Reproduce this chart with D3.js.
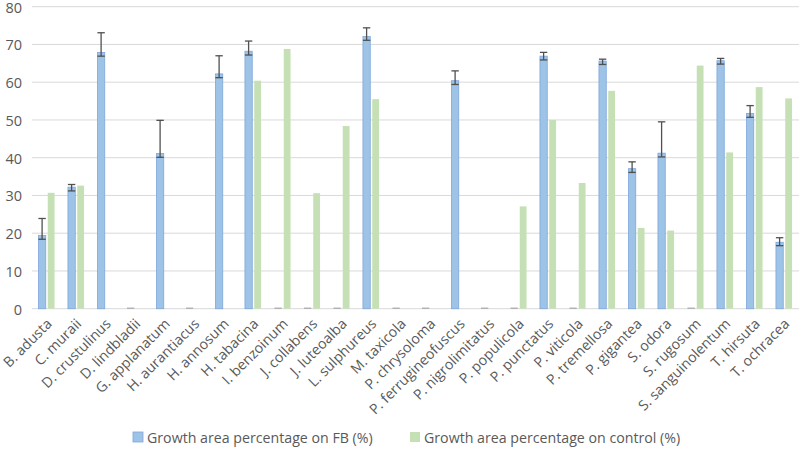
<!DOCTYPE html>
<html>
<head>
<meta charset="utf-8">
<script src="https://cdn.jsdelivr.net/npm/d3@7"></script>
<style>
  body { margin: 0; background: #fff; }
  text { font-family: "Open Sans", "Liberation Sans", sans-serif; fill: #595959; }
</style>
</head>
<body>
<div id="chart"></div>
<script>
// species names on the x axis
const species = ["B. adusta", "C. muraii", "D. crustulinus", "D. lindbladii", "G. applanatum",
  "H. aurantiacus", "H. annosum", "H. tabacina", "I. benzoinum", "J. collabens", "J. luteoalba",
  "L. sulphureus", "M. taxicola", "P. chrysoloma", "P. ferrugineofuscus", "P. nigrolimitatus",
  "P. populicola", "P. punctatus", "P. viticola", "P. tremellosa", "P. gigantea", "S. odora",
  "S. rugosum", "S. sanguinolentum", "T. hirsuta", "T. ochracea"];

// growth area on FB (%)
const fbValues = [19.4, 32.2, 67.9, 0, 41.1, 0, 62.2, 68.2, 0, 0, 0, 72.1, 0, 0, 60.4, 0,
  0, 66.9, 0, 65.6, 37.1, 41.2, 0, 65.7, 51.7, 17.6];
// error bars on FB (plus / minus)
const fbErrPlus = [4.5, 0.7, 5.2, 0, 8.8, 0, 4.8, 2.7, 0, 0, 0, 2.3, 0, 0, 2.6, 0,
  0, 1.0, 0, 0.5, 1.8, 8.3, 0, 0.6, 2.1, 1.2];
const fbErrMinus = [1.0, 1.0, 1.0, 0, 1.0, 0, 1.0, 1.0, 0, 0, 0, 1.0, 0, 0, 1.0, 0,
  0, 1.0, 0, 0.9, 1.0, 1.0, 0, 0.9, 1.0, 0.9];

// growth area on control (%)
const controlValues = [30.7, 32.6, 0, 0, 0, 0, 0, 60.4, 68.8, 30.6, 48.4, 55.5, 0, 0, 0, 0,
  27.1, 50.0, 33.3, 57.7, 21.4, 20.7, 64.4, 41.4, 58.7, 55.7];

const yTicks = [0, 10, 20, 30, 40, 50, 60, 70, 80];
const seriesNames = ["Growth area percentage on FB (%)", "Growth area percentage on control (%)"];

const width = 800, height = 457;
const margin = {top: 6.7, right: 1, bottom: 148.3, left: 32};

const svg = d3.select("#chart").append("svg")
  .attr("width", width)
  .attr("height", height);

const x = d3.scaleBand()
  .domain(species)
  .range([margin.left, width - margin.right]);

const y = d3.scaleLinear()
  .domain([0, 80])
  .range([height - margin.bottom, margin.top]);

// gridlines
svg.append("g")
  .selectAll("line")
  .data(yTicks)
  .join("line")
    .attr("x1", margin.left)
    .attr("x2", width - margin.right)
    .attr("y1", d => y(d))
    .attr("y2", d => y(d))
    .attr("stroke", "#d9d9d9")
    .attr("stroke-width", 1);

// y axis labels
const yAxis = svg.append("g")
  .attr("transform", "translate(" + (margin.left - 10) + ",0)")
  .call(d3.axisLeft(y).tickValues(yTicks).tickSize(0).tickPadding(0));
yAxis.select(".domain").remove();
yAxis.selectAll("text")
  .attr("dy", "0.38em")
  .style("font-size", "14.5px")
  .style("font-family", "'Open Sans', sans-serif")
  .attr("fill", "#595959");

const barW = 7.3;
const gap = 1;
const bw = x.bandwidth();

// FB bars
svg.append("g")
  .selectAll("rect")
  .data(species.map((s, i) => ({s: s, v: fbValues[i]})).filter(d => d.v > 0))
  .join("rect")
    .attr("x", d => x(d.s) + bw / 2 - gap - barW)
    .attr("y", d => y(d.v))
    .attr("width", barW)
    .attr("height", d => y(0) - y(d.v))
    .attr("fill", "#9dc3e6")
    .attr("stroke", "#7fa6dc")
    .attr("stroke-width", 0.8);

// control bars
svg.append("g")
  .selectAll("rect")
  .data(species.map((s, i) => ({s: s, v: controlValues[i]})).filter(d => d.v > 0))
  .join("rect")
    .attr("x", d => x(d.s) + bw / 2 + gap)
    .attr("y", d => y(d.v))
    .attr("width", barW - 0.5)
    .attr("height", d => y(0) - y(d.v))
    .attr("fill", "#c5e0b4");

// zero FB values show a small grey dash
svg.append("g")
  .selectAll("line")
  .data(species.filter((s, i) => fbValues[i] === 0))
  .join("line")
    .attr("x1", d => x(d) + bw / 2 - gap - barW)
    .attr("x2", d => x(d) + bw / 2 - gap)
    .attr("y1", y(0) - 0.5)
    .attr("y2", y(0) - 0.5)
    .attr("stroke", "#a6a6a6")
    .attr("stroke-width", 1.2);

// error bars
const errData = species.map((s, i) => ({
  s: s, v: fbValues[i], hi: fbValues[i] + fbErrPlus[i], lo: fbValues[i] - fbErrMinus[i]
})).filter(d => d.v > 0);

const err = svg.append("g")
  .attr("stroke", "#505050")
  .attr("stroke-width", 1.3);

errData.forEach(d => {
  const cx = x(d.s) + bw / 2 - gap - barW / 2;
  err.append("line").attr("x1", cx).attr("x2", cx).attr("y1", y(d.hi)).attr("y2", y(d.lo));
  err.append("line").attr("x1", cx - 3.7).attr("x2", cx + 3.7).attr("y1", y(d.hi)).attr("y2", y(d.hi));
  err.append("line").attr("x1", cx - 3.7).attr("x2", cx + 3.7).attr("y1", y(d.lo)).attr("y2", y(d.lo));
});

// x labels rotated
svg.append("g")
  .selectAll("text")
  .data(species)
  .join("text")
    .attr("transform", d => "translate(" + (x(d) + bw / 2 + 6) + "," + (y(0) + 16) + ") rotate(-45)")
    .attr("text-anchor", "end")
    .style("font-size", "14.2px")
    .text(d => d);

// legend
const legendColors = ["#9dc3e6", "#c5e0b4"];
const legendX = [133, 410];
const legend = svg.append("g");
seriesNames.forEach((name, i) => {
  legend.append("rect")
    .attr("x", legendX[i])
    .attr("y", 432)
    .attr("width", 10)
    .attr("height", 10)
    .attr("fill", legendColors[i])
    .attr("stroke", i === 0 ? "#7fa6dc" : "none")
    .attr("stroke-width", 0.8);
  legend.append("text")
    .attr("x", legendX[i] + 14)
    .attr("y", 442.5)
    .style("font-size", "14.2px")
    .text(name);
});
</script>
</body>
</html>
